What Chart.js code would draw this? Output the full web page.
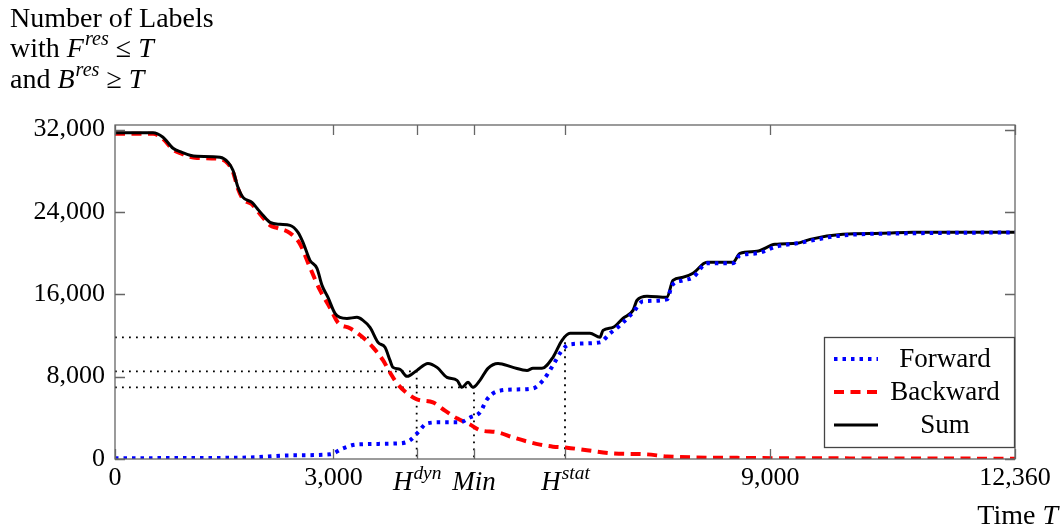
<!DOCTYPE html>
<html>
<head>
<meta charset="utf-8">
<script src="https://cdn.jsdelivr.net/npm/chart.js@4.4.1/dist/chart.umd.min.js"></script>
<style>
  html, body { margin: 0; padding: 0; background: #fff; }
  canvas { display: block; }
</style>
</head>
<body>
<canvas id="myChart" width="1061" height="529"></canvas>
<script>
// values (time T, number of labels)
const timeSum = [0, 522, 659, 797, 920, 1030, 1126, 1442, 1552, 1620, 1689, 1758, 1881, 1950, 2032, 2129, 2266, 2403, 2513, 2582, 2678, 2774, 2843, 2925, 3021, 3090, 3186, 3323, 3406, 3502, 3612, 3708, 3777, 3818, 3914, 4010, 4051, 4147, 4298, 4422, 4559, 4697, 4765, 4848, 4916, 5012, 5122, 5260, 5466, 5658, 5740, 5864, 6015, 6139, 6249, 6523, 6660, 6702, 6839, 6976, 7114, 7169, 7306, 7581, 7663, 7800, 7938, 8130, 8487, 8583, 8816, 9064, 9366, 9545, 9998, 10547, 10959, 12360];
const sumVals = [31700, 31700, 31260, 30190, 29800, 29510, 29410, 29310, 28830, 28050, 26400, 25420, 24940, 24360, 23680, 22990, 22800, 22700, 22020, 21050, 19300, 18520, 16870, 15700, 14150, 13760, 13660, 13760, 13470, 12790, 11330, 10850, 9580, 8900, 8710, 8030, 8130, 8610, 9290, 8900, 7930, 7640, 6960, 7450, 6960, 7640, 8810, 9290, 8900, 8610, 8810, 8810, 9880, 11530, 12210, 12210, 11820, 12500, 12790, 13670, 14440, 15420, 15810, 15710, 17360, 17650, 18040, 19110, 19110, 19980, 20180, 20860, 20960, 21340, 21830, 21930, 22020, 22020];

const timeFwd = [0, 1200, 1854, 2403, 2952, 3131, 3323, 3914, 4051, 4161, 4285, 4463, 4738, 4875, 5012, 5109, 5246, 5521, 5740, 5878, 6015, 6139, 6249, 6660, 6798, 6935, 7114, 7251, 7581, 7650, 7800, 7938, 8130, 8487, 8583, 8816, 9091, 9366, 9998, 10959, 12360];
const fwdVals = [80, 100, 150, 350, 450, 1030, 1420, 1520, 1810, 2590, 3460, 3560, 3560, 4040, 4530, 5790, 6570, 6760, 6860, 7640, 9100, 10560, 11140, 11330, 12210, 12980, 14250, 15320, 15510, 16870, 17360, 17650, 19010, 19010, 19790, 19980, 20660, 20960, 21730, 21930, 22020];

const timeBwd = [0, 522, 659, 797, 920, 1030, 1126, 1442, 1552, 1620, 1689, 1758, 1881, 1950, 2032, 2129, 2225, 2403, 2540, 2678, 2815, 2952, 3062, 3227, 3406, 3543, 3680, 3777, 3873, 4010, 4147, 4367, 4532, 4697, 4875, 5012, 5246, 5466, 5658, 5837, 6015, 6207, 6482, 6839, 7306, 7581, 8720, 10094, 12360];
const bwdVals = [31600, 31600, 31100, 30050, 29650, 29350, 29250, 29150, 28700, 27900, 26250, 25250, 24750, 24150, 23450, 22700, 22450, 21950, 20900, 18600, 16400, 14700, 13250, 12700, 11800, 10850, 9600, 8400, 7350, 6400, 5800, 5500, 4700, 3950, 3350, 2800, 2600, 2100, 1700, 1400, 1200, 1100, 850, 550, 450, 250, 100, 60, 30];

// marked times H^dyn, Min, H^stat and the sum there
const markTimes = [4143, 4930, 6180];
const markVals = [8515, 6960, 11820];

const xTicks = [0, 3000, 4143, 4930, 6180, 9000, 12360];
const yTicks = [0, 8000, 16000, 24000, 32000];

const FONT = '"Liberation Serif", "DejaVu Serif", serif';
const GRAY = '#666666';
const TXT = 27;

function pts(xs, ys) {
    return xs.map((x, i) => ({ x: x, y: ys[i] }));
}

// text with italic parts and superscripts
function drawRich(ctx, segs, x, y, size, align) {
    const fontOf = s => (s.i ? 'italic ' : '') + (s.sup ? size * 0.72 : size) + 'px ' + FONT;
    let w = 0;
    segs.forEach(s => { ctx.font = fontOf(s); w += ctx.measureText(s.t).width; });
    let cx = align === 'center' ? x - w / 2 : align === 'right' ? x - w : x;
    ctx.textAlign = 'left';
    ctx.textBaseline = 'alphabetic';
    ctx.fillStyle = '#000';
    segs.forEach(s => {
        ctx.font = fontOf(s);
        ctx.fillText(s.t, cx, s.sup ? y - size * 0.42 : y);
        cx += ctx.measureText(s.t).width + (s.i && !s.sup ? 1 : 0);
    });
}

const markLabels = [
    [{ t: 'H', i: true }, { t: 'dyn', i: true, sup: true }],
    [{ t: 'Min', i: true }],
    [{ t: 'H', i: true }, { t: 'stat', i: true, sup: true }]
];

const extras = {
    id: 'extras',
    afterDraw(chart) {
        const ctx = chart.ctx;
        const a = chart.chartArea;
        const xs = chart.scales.x, ys = chart.scales.y;
        ctx.save();
        // frame + inner ticks
        ctx.strokeStyle = GRAY;
        ctx.lineWidth = 1.3;
        ctx.setLineDash([]);
        ctx.strokeRect(a.left, a.top, a.right - a.left, a.bottom - a.top);
        ctx.beginPath();
        xTicks.forEach(v => {
            const p = Math.round(xs.getPixelForValue(v)) + 0.5;
            ctx.moveTo(p, a.bottom); ctx.lineTo(p, a.bottom - 10);
            ctx.moveTo(p, a.top); ctx.lineTo(p, a.top + 10);
        });
        yTicks.forEach(v => {
            const p = Math.round(ys.getPixelForValue(v)) + 0.5;
            ctx.moveTo(a.left, p); ctx.lineTo(a.left + 10, p);
            ctx.moveTo(a.right, p); ctx.lineTo(a.right - 10, p);
        });
        ctx.stroke();

        // labels of the marked times
        markTimes.forEach((t, i) => {
            drawRich(ctx, markLabels[i], xs.getPixelForValue(t), 490, TXT, 'center');
        });

        // y title, top left
        drawRich(ctx, [{ t: 'Number of Labels' }], 10, 27, 28, 'left');
        drawRich(ctx, [{ t: 'with ' }, { t: 'F', i: true }, { t: 'res', i: true, sup: true }, { t: ' ≤ ' }, { t: 'T', i: true }], 10, 57, 28, 'left');
        drawRich(ctx, [{ t: 'and ' }, { t: 'B', i: true }, { t: 'res', i: true, sup: true }, { t: ' ≥ ' }, { t: 'T', i: true }], 10, 88, 28, 'left');
        // x title
        drawRich(ctx, [{ t: 'Time ' }, { t: 'T', i: true }], 1058, 524, 28, 'right');

        // legend
        const lx = 824.5, ly = 337.5, lw = 190, lh = 110;
        ctx.fillStyle = '#fff';
        ctx.fillRect(lx, ly, lw, lh);
        ctx.strokeStyle = '#444';
        ctx.lineWidth = 1.3;
        ctx.strokeRect(lx, ly, lw, lh);
        chart.data.datasets.slice(0, 3).forEach((ds, i) => {
            const yy = [359, 392, 425][i];
            ctx.strokeStyle = ds.borderColor;
            ctx.lineWidth = ds.borderWidth;
            ctx.setLineDash(ds.borderDash || []);
            ctx.beginPath();
            ctx.moveTo(834, yy); ctx.lineTo(878, yy);
            ctx.stroke();
            ctx.setLineDash([]);
            drawRich(ctx, [{ t: ds.label }], 945, yy + 8, TXT, 'center');
        });
        ctx.restore();
    }
};

document.addEventListener('DOMContentLoaded', function () {
    const datasets = [
        {
            label: 'Forward',
            data: pts(timeFwd, fwdVals),
            borderColor: '#0000ff',
            borderWidth: 4,
            borderDash: [3.5, 5],
            order: 0
        },
        {
            label: 'Backward',
            data: pts(timeBwd, bwdVals),
            borderColor: '#ff0000',
            borderWidth: 4,
            borderDash: [10, 6.5],
            order: 2
        },
        {
            label: 'Sum',
            data: pts(timeSum, sumVals),
            borderColor: '#000000',
            borderWidth: 3,
            order: 1
        }
    ];
    markTimes.forEach((t, i) => {
        datasets.push({
            label: 'mark' + i,
            data: [{ x: 0, y: markVals[i] }, { x: t, y: markVals[i] }, { x: t, y: 0 }],
            borderColor: '#000',
            borderWidth: 1.8,
            borderDash: [1.8, 5.2],
            cubicInterpolationMode: 'default',
            tension: 0,
            order: 3
        });
    });

    const config = {
        type: 'line',
        data: { datasets: datasets },
        options: {
            responsive: false,
            animation: false,
            devicePixelRatio: 1,
            layout: { padding: { left: 0, top: 125, right: 46, bottom: 0 } },
            elements: {
                point: { radius: 0 },
                line: { cubicInterpolationMode: 'monotone', fill: false }
            },
            plugins: {
                legend: { display: false },
                tooltip: { enabled: false }
            },
            scales: {
                x: {
                    type: 'linear',
                    min: 0,
                    max: 12360,
                    grid: { display: false, drawTicks: false },
                    border: { display: false },
                    afterBuildTicks: s => { s.ticks = xTicks.map(v => ({ value: v })); },
                    afterFit: s => { s.height = 70; },
                    ticks: {
                        padding: 4,
                        maxRotation: 0,
                        autoSkip: false,
                        color: '#000',
                        font: { family: FONT, size: 26 },
                        callback: v => markTimes.includes(v) ? '' : v.toLocaleString('en-US')
                    }
                },
                y: {
                    min: 0,
                    max: 32450,
                    grid: { display: false, drawTicks: false },
                    border: { display: false },
                    afterBuildTicks: s => { s.ticks = yTicks.map(v => ({ value: v })); },
                    afterFit: s => { s.width = 115; },
                    ticks: {
                        padding: 10,
                        color: '#000',
                        font: { family: FONT, size: 26 },
                        callback: v => v.toLocaleString('en-US')
                    }
                }
            }
        },
        plugins: [extras]
    };
    const chart = new Chart(document.getElementById('myChart'), config);
});
</script>
</body>
</html>
